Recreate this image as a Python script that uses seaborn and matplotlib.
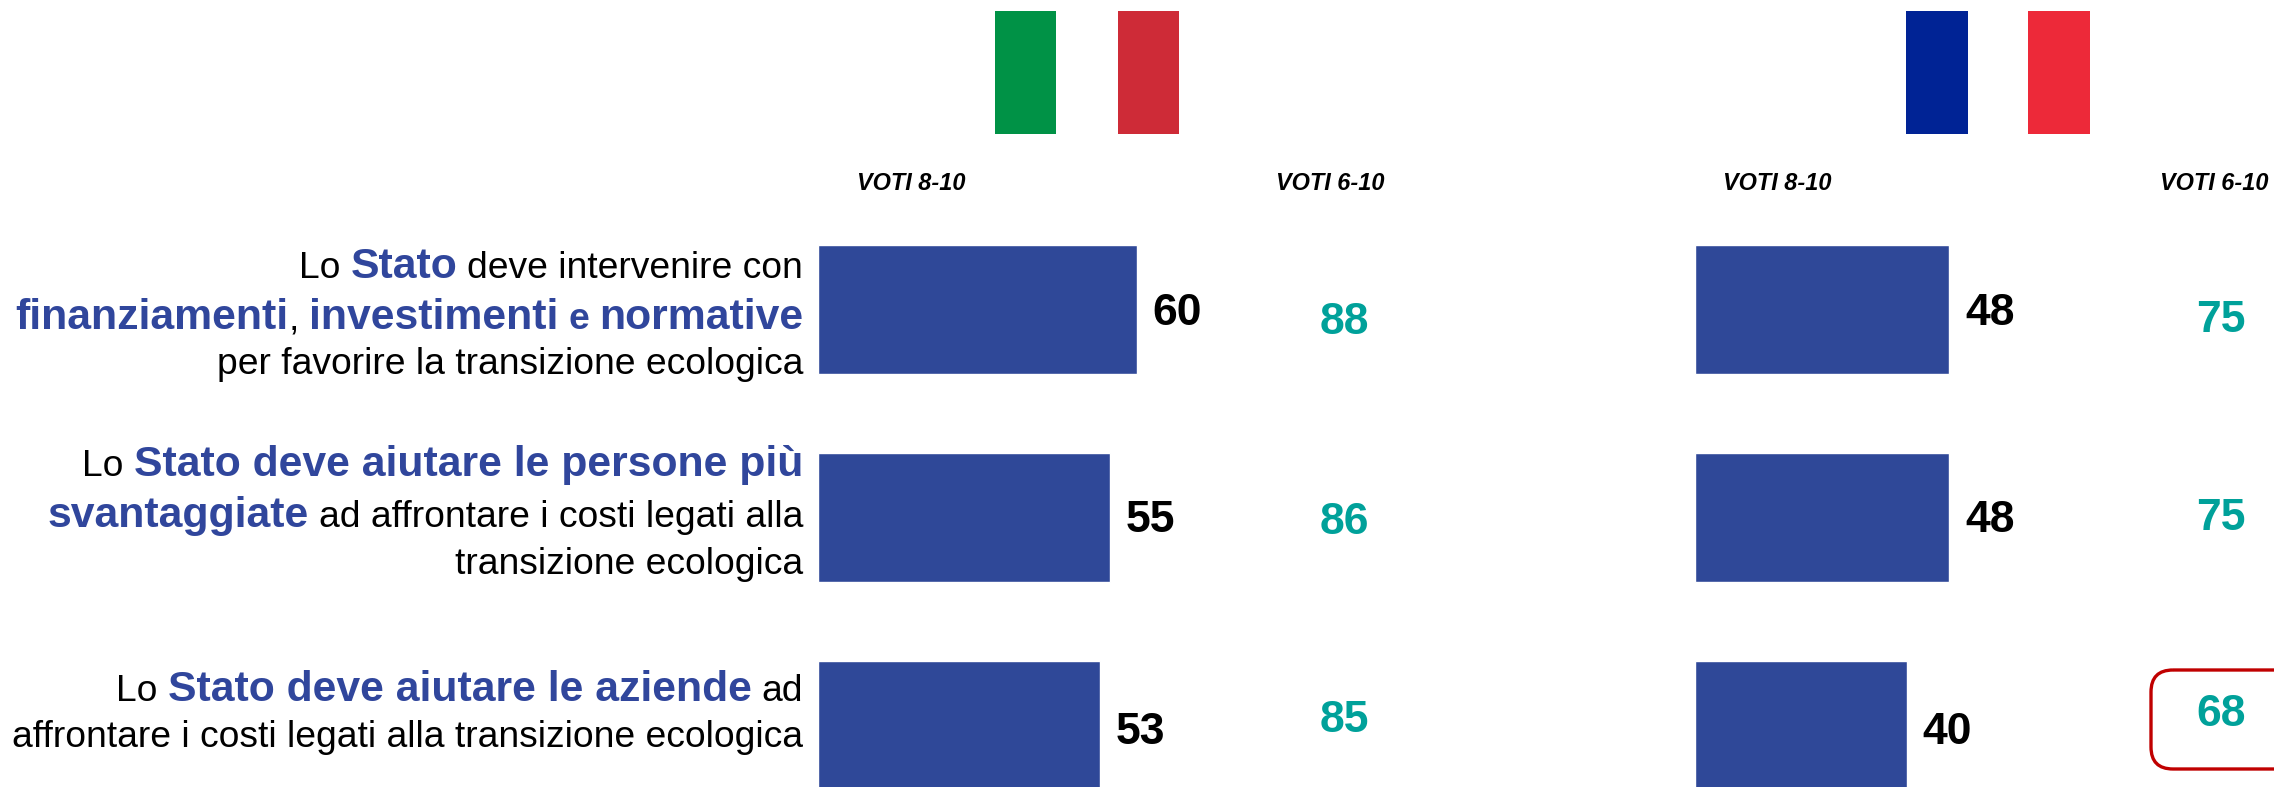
import pandas as pd
import matplotlib
matplotlib.use("Agg")
import matplotlib.pyplot as plt
from matplotlib.patches import Rectangle, FancyBboxPatch
import seaborn as sns

# data
items = ["finanziamenti", "persone", "aziende"]
italia_8_10 = [60, 55, 53]
italia_6_10 = [88, 86, 85]
francia_8_10 = [48, 48, 40]
francia_6_10 = [75, 75, 68]
header_low = "VOTI 8-10"
header_high = "VOTI 6-10"

N, B, E = "n", "b", "e"
row_lines = [
    [[("Lo", N), ("Stato", B), ("deve intervenire con", N)], 278],
    [[("finanziamenti", B), (",", N), ("investimenti", B), ("e", E), ("normative", B)], 329],
    [[("per favorire la transizione ecologica", N)], 374],
    [[("Lo", N), ("Stato deve aiutare le persone più", B)], 476],
    [[("svantaggiate", B), ("ad affrontare i costi legati alla", N)], 527],
    [[("transizione ecologica", N)], 574],
    [[("Lo", N), ("Stato deve aiutare le aziende", B), ("ad", N)], 701],
    [[("affrontare i costi legati alla transizione ecologica", N)], 747],
]

BLUE = "#2F4898"
TEAL = "#00A19A"
W, H = 2274, 787

sns.set_theme(style="white")
plt.rcParams["font.family"] = ["Liberation Sans", "DejaVu Sans"]

fig = plt.figure(figsize=(W / 100, H / 100), dpi=100)

# overlay in pixels for the text and the flags
over = fig.add_axes([0, 0, 1, 1])
over.set_xlim(0, W)
over.set_ylim(H, 0)
over.axis("off")


def bars(values, left, px_per_unit):
    width = 100 * px_per_unit
    ax = fig.add_axes([left / W, 0, width / W, 1])
    df = pd.DataFrame({"item": items, "voti": values})
    sns.barplot(data=df, x="voti", y="item", color=BLUE, saturation=1,
                width=0.62, orient="h", ax=ax)
    ax.set_xlim(0, 100)
    ax.set_ylim((H - 309.5) / 208.25, -309.5 / 208.25)
    ax.axis("off")
    ax.patch.set_alpha(0)
    return ax


ax_it = bars(italia_8_10, 818, 5.317)
ax_fr = bars(francia_8_10, 1695, 5.3)

# bar values
for ax, vals, shifts in [(ax_it, italia_8_10, [0.02, 0.015, 0.03]),
                         (ax_fr, francia_8_10, [0.02, 0.015, 0.03])]:
    for i, v in enumerate(vals):
        ax.text(v + 7.6, i + shifts[i], str(v), ha="center", va="center",
                fontsize=32, fontweight="bold", color="black")

# voti 6-10
for x, vals, ys in [(1344, italia_6_10, [323, 522, 721]),
                    (2221, francia_6_10, [321, 518, 714])]:
    for v, y in zip(vals, ys):
        over.text(x, y, str(v), ha="center", va="center", fontsize=32,
                  fontweight="bold", color=TEAL)

# headers
for x, t in [(911, header_low), (1330, header_high), (1777, header_low), (2214, header_high)]:
    over.text(x, 183, t, ha="center", va="center", fontsize=16.9,
              fontweight="bold", fontstyle="italic", color="black")

# flags
for x0, x1, c in [(995, 1056, "#009246"), (1118, 1179, "#CE2B37"),
                  (1906, 1968, "#002395"), (2028, 2090, "#ED2939")]:
    over.add_patch(Rectangle((x0, 11), x1 - x0, 123, color=c, lw=0))

# red box, runs off the right edge
over.add_patch(FancyBboxPatch((2171, 690), 200, 59, boxstyle="round,pad=20,rounding_size=22",
                              fc="none", ec="#C00000", lw=2.4))

# left text, built from the right
styles = {
    N: dict(fontsize=26.8, color="black"),
    B: dict(fontsize=30.8, fontweight="bold", color="#30469C"),
    E: dict(fontsize=26.8, fontweight="bold", color="#30469C"),
}
fig.canvas.draw()
rend = fig.canvas.get_renderer()
for runs, base in row_lines:
    x = 803
    for text, st in reversed(runs):
        t = over.text(x, base, text, ha="right", va="baseline", **styles[st])
        x -= t.get_window_extent(rend).width
        x -= 0 if text == "," else 10

fig.savefig("out.png", dpi=100)
